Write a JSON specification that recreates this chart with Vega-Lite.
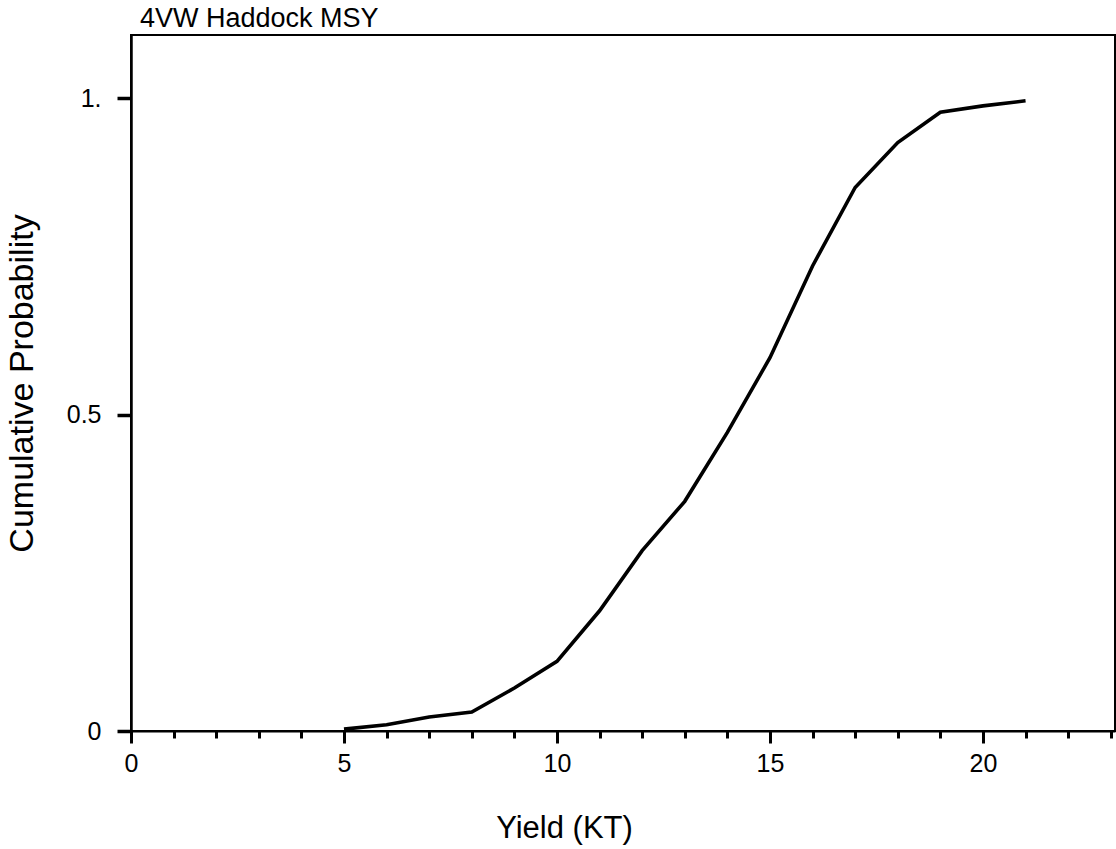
{
  "$schema": "https://vega.github.io/schema/vega-lite/v6.json",
  "width": 984,
  "height": 696,
  "autosize": "none",
  "padding": {"left": 131, "top": 35, "right": 1, "bottom": 118},
  "background": "white",
  "config": {
    "view": {"stroke": "black", "strokeWidth": 2},
    "font": "Liberation Sans",
    "axis": {
      "grid": false,
      "domainColor": "black",
      "tickColor": "black",
      "labelColor": "black",
      "titleColor": "black",
      "labelFont": "Liberation Sans",
      "titleFont": "Liberation Sans",
      "titleFontWeight": "normal"
    }
  },
  "title": {
    "text": "4VW Haddock MSY",
    "anchor": "start",
    "frame": "group",
    "dx": 9,
    "dy": 27,
    "offset": 2,
    "baseline": "bottom",
    "fontSize": 27,
    "fontWeight": "normal",
    "color": "black",
    "font": "Liberation Sans"
  },
  "data": {
    "values": [
      {"yield": 5, "prob": 0.003},
      {"yield": 6, "prob": 0.01},
      {"yield": 7, "prob": 0.022},
      {"yield": 8, "prob": 0.03},
      {"yield": 9, "prob": 0.068},
      {"yield": 10, "prob": 0.11},
      {"yield": 11, "prob": 0.19},
      {"yield": 12, "prob": 0.285},
      {"yield": 13, "prob": 0.363},
      {"yield": 14, "prob": 0.472},
      {"yield": 15, "prob": 0.59},
      {"yield": 16, "prob": 0.735},
      {"yield": 17, "prob": 0.859},
      {"yield": 18, "prob": 0.93},
      {"yield": 19, "prob": 0.978},
      {"yield": 20, "prob": 0.988},
      {"yield": 21, "prob": 0.996}
    ]
  },
  "layer": [
    {
      "mark": {"type": "line", "opacity": 0},
      "encoding": {
        "x": {
          "field": "yield",
          "type": "quantitative",
          "scale": {"domain": [0, 23.1], "nice": false, "zero": false},
          "axis": {
            "orient": "bottom",
            "values": [0,1,2,3,4,5,6,7,8,9,10,11,12,13,14,15,16,17,18,19,20,21,22,23],
            "labels": false,
            "domain": false,
            "tickSize": 7,
            "tickWidth": 3,
            "title": null
          }
        },
        "y": {
          "field": "prob",
          "type": "quantitative",
          "scale": {"domain": [0, 1.1], "nice": false, "zero": false},
          "axis": {
            "values": [0, 0.5, 1],
            "labelExpr": "datum.value == 1 ? '1.' : (datum.value == 0 ? '0' : '0.5')",
            "domain": true,
            "domainWidth": 2.5,
            "tickSize": 14,
            "tickWidth": 3.5,
            "labelFontSize": 25,
            "labelPadding": 16,
            "labelFlush": false,
            "title": "Cumulative Probability",
            "titleFontSize": 34,
            "titleX": -99,
            "titleY": 348,
            "titleAngle": -90,
            "titleAlign": "center",
            "titleBaseline": "alphabetic"
          }
        }
      }
    },
    {
      "mark": {"type": "line", "color": "black", "strokeWidth": 3.6},
      "encoding": {
        "x": {
          "field": "yield",
          "type": "quantitative",
          "scale": {"domain": [0, 23.1], "nice": false, "zero": false},
          "axis": {
            "orient": "bottom",
            "values": [0, 5, 10, 15, 20],
            "domain": true,
            "domainWidth": 2,
            "tickSize": 12,
            "tickWidth": 3,
            "labelFontSize": 25,
            "labelPadding": 8,
            "labelFlush": false,
            "title": "Yield (KT)",
            "titleFontSize": 31,
            "titleX": 433,
            "titleY": 106,
            "titleAlign": "center",
            "titleBaseline": "alphabetic"
          }
        },
        "y": {
          "field": "prob",
          "type": "quantitative",
          "scale": {"domain": [0, 1.1], "nice": false, "zero": false},
          "axis": {
            "values": [0, 0.5, 1],
            "labelExpr": "datum.value == 1 ? '1.' : (datum.value == 0 ? '0' : '0.5')",
            "domain": true,
            "domainWidth": 2.5,
            "tickSize": 14,
            "tickWidth": 3.5,
            "labelFontSize": 25,
            "labelPadding": 16,
            "labelFlush": false,
            "title": "Cumulative Probability",
            "titleFontSize": 34,
            "titleX": -99,
            "titleY": 348,
            "titleAngle": -90,
            "titleAlign": "center",
            "titleBaseline": "alphabetic"
          }
        }
      }
    }
  ],
  "resolve": {"axis": {"x": "independent"}}
}
